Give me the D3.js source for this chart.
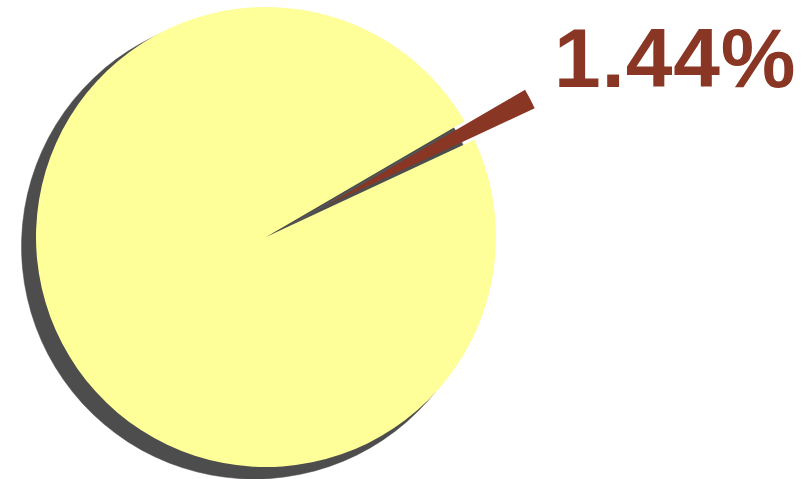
<!DOCTYPE html>
<html>
<head>
<meta charset="utf-8">
<script src="https://cdn.jsdelivr.net/npm/d3@7"></script>
<style>
  body { margin: 0; background: #fff; }
  svg { display: block; }
</style>
</head>
<body>
<svg id="chart" width="812" height="479"></svg>
<script>
/*
    Chart data
 */
var sliceNames = ["Share", "Rest"];
var sliceValues = [1.44, 98.56];
var sliceColors = ["#8a3624", "#ffff99"];
var labelText = "1.44%";

var width = 812;
var height = 479;

var svg = d3.select("#chart");

var cx = 266, cy = 237, radius = 230;
var startDeg = 59.8;          // where the small slice begins (clockwise from 12 o'clock)
var explode = 68;             // how far the small slice is pulled out
var shadowDx = -12, shadowDy = 9.5, shadowRadius = 232.5;

var pie = d3.pie()
    .sort(null)
    .startAngle(startDeg * Math.PI / 180)
    .endAngle(startDeg * Math.PI / 180 + 2 * Math.PI)
    .value(function(d) { return d; });

var arcs = pie(sliceValues);

var path = d3.arc()
    .innerRadius(0)
    .outerRadius(radius);

var shadowPath = d3.arc()
    .innerRadius(0)
    .outerRadius(shadowRadius);

/*
    Shadow, drawn under the slices at their normal place
 */
svg.append("g")
    .attr("transform", "translate(" + (cx + shadowDx) + "," + (cy + shadowDy) + ")")
    .selectAll("path")
    .data(arcs)
    .enter().append("path")
    .attr("d", shadowPath)
    .attr("fill", "#4d4d4d")
    .attr("stroke", "#4d4d4d")
    .attr("stroke-width", 0.5);

/*
    Slices, the small one pulled out along its middle angle
 */
var offset = function(d, i) {
    if (i !== 0) return [0, 0];
    var mid = (d.startAngle + d.endAngle) / 2;
    return [Math.sin(mid) * explode, -Math.cos(mid) * explode];
};

var slices = svg.append("g")
    .attr("transform", "translate(" + cx + "," + cy + ")");

slices.selectAll("path")
    .data(arcs)
    .enter().append("path")
    .attr("transform", function(d, i) {
        var o = offset(d, i);
        return "translate(" + o[0] + "," + o[1] + ")";
    })
    .attr("d", path)
    .attr("fill", function(d, i) { return sliceColors[i]; });

// bring the yellow slice under the brown one
slices.selectAll("path").filter(function(d, i) { return i === 1; }).lower();

/*
    Label for the small slice
 */
svg.append("text")
    .attr("x", 554)
    .attr("y", 87)
    .attr("font-family", "Liberation Sans, Arial, sans-serif")
    .attr("font-weight", "bold")
    .attr("font-size", 84)
    .attr("letter-spacing", 0.8)
    .attr("fill", sliceColors[0])
    .text(labelText);
</script>
</body>
</html>
